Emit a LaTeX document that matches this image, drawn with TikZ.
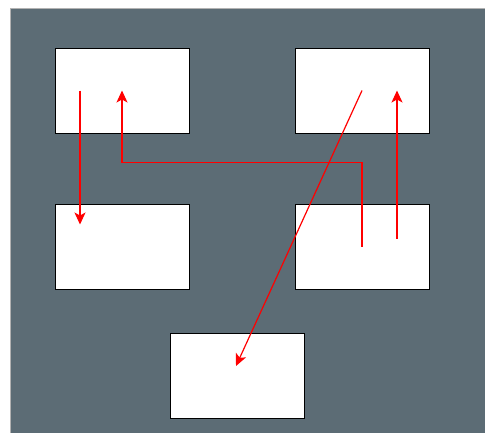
\documentclass[tikz,border=0pt]{standalone}
\usetikzlibrary{arrows.meta,calc}
\definecolor{slate}{RGB}{92,108,117}
\tikzset{
    panel/.style={draw=black,line width=0.8pt,fill=white,minimum width=134pt,minimum height=85pt,inner sep=0pt},
    link/.style={draw=red,line width=1.2pt,-{Stealth[length=12pt,width=11pt,inset=3pt]}}
}
\begin{document}
\begin{tikzpicture}[x=1pt,y=-1pt]
        \useasboundingbox (0,0) rectangle (485,432);
        \fill [slate,draw=gray!60,line width=0.6pt] (10,8) rectangle (486,433);
        \node [panel] (A) at (122,90.5) {};
        \node [panel] (B) at (362,90.5) {};
        \node [panel] (C) at (122,246.5) {};
        \node [panel] (D) at (362,246.5) {};
        \node [panel] (E) at (237.5,376) {};
        \coordinate (Aleft) at ($(A)+(-42,0)$);
        \coordinate (Ctop) at ($(C)+(-42,-22)$);
        \coordinate (Dright) at ($(D)+(35,-8)$);
        \coordinate (Bright) at ($(B)+(35,0)$);
        \coordinate (Etop) at ($(E)+(-1.5,-10)$);
        \draw [link] (Aleft) -- (Ctop);
        \draw [link] (D.center) -- ++(0,-84) -| (A.center);
        \draw [link] (Dright) -- (Bright);
        \draw [link] (B.center) -- (Etop);
\end{tikzpicture}
\end{document}
